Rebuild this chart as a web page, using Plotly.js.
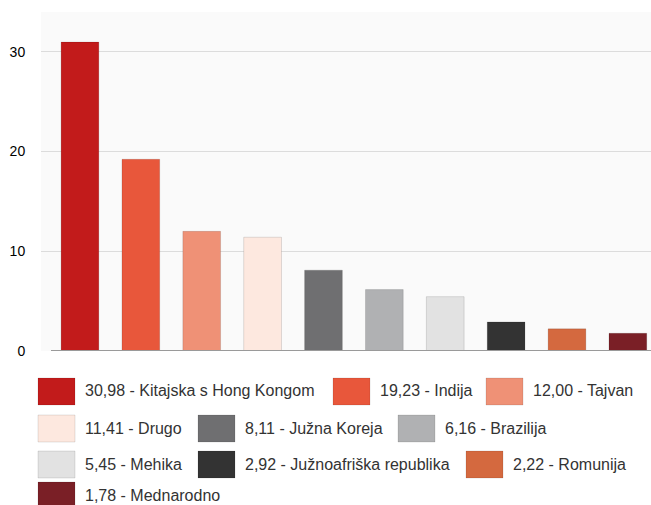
<!DOCTYPE html>
<html>
<head>
<meta charset="utf-8">
<script src="https://cdn.plot.ly/plotly-3.0.1.min.js"></script>
<style>html,body{margin:0;padding:0;background:#fff;}#chart{width:651px;height:505px;}</style>
</head>
<body>
<div id="chart"></div>
<script>
// Data
const categories = ["Kitajska s Hong Kongom", "Indija", "Tajvan", "Drugo", "Južna Koreja", "Brazilija", "Mehika", "Južnoafriška republika", "Romunija", "Mednarodno"];
const values = [30.98, 19.23, 12.00, 11.41, 8.11, 6.16, 5.45, 2.92, 2.22, 1.78];
const valueLabels = ["30,98", "19,23", "12,00", "11,41", "8,11", "6,16", "5,45", "2,92", "2,22", "1,78"];
const yTicks = [0, 10, 20, 30];

// Styles
const colors = ["#c21b1b", "#e8573b", "#ef9176", "#fde8df", "#6f6f71", "#b0b1b3", "#e2e2e2", "#333333", "#d4693f", "#7a1f26"];
const legendX = [38, 333, 486, 38, 198, 398, 38, 198, 466, 38];
const legendRow = [0, 0, 0, 1, 1, 1, 2, 2, 2, 3];
const rowTop = [378, 415, 451, 482];

const W = 651, H = 505;
const plotL = 41, plotR = 651, plotT = 12, plotB = 351;
const px = x => (x - plotL) / (plotR - plotL);
const py = y => (plotB - y) / (plotB - plotT);

const trace = {
  type: "bar",
  x: categories.map((c, i) => i),
  y: values,
  width: 0.62,
  marker: {color: colors, line: {color: "rgba(0,0,0,0.12)", width: 1}},
  hoverinfo: "none",
  showlegend: false
};

const shapes = [{
  type: "line", xref: "x", yref: "y", x0: -0.476, x1: 9.5, y0: 0, y1: 0,
  line: {color: "#9a9a9a", width: 2}, layer: "above"
}];
const annotations = [];
categories.forEach((c, i) => {
  const sx = legendX[i], top = rowTop[legendRow[i]];
  shapes.push({
    type: "rect", xref: "paper", yref: "paper",
    x0: px(sx), x1: px(sx + 37), y0: py(top + 27), y1: py(top),
    fillcolor: colors[i], line: {color: "rgba(0,0,0,0.10)", width: 1}
  });
  annotations.push({
    xref: "paper", yref: "paper", x: px(sx + 45), y: py(top + 13),
    xanchor: "left", yanchor: "middle", showarrow: false,
    text: valueLabels[i] + " - " + c,
    font: {family: "Liberation Sans, Arial, sans-serif", size: 16, color: "#333"}
  });
});

const layout = {
  width: W, height: H,
  margin: {l: plotL, r: W - plotR, t: plotT, b: H - plotB, pad: 0},
  paper_bgcolor: "#ffffff",
  plot_bgcolor: "#fafafa",
  xaxis: {range: [-0.64, 9.38], showticklabels: false, showgrid: false, zeroline: false, ticks: "", fixedrange: true},
  yaxis: {
    range: [0, 34.0], tickvals: yTicks, ticktext: yTicks.map(String),
    showgrid: true, gridcolor: "#dcdcdc", gridwidth: 1, zeroline: false,
    ticks: "outside", ticklen: 12, tickcolor: "rgba(0,0,0,0)",
    tickfont: {family: "Liberation Sans, Arial, sans-serif", size: 14, color: "#000"},
    fixedrange: true
  },
  shapes: shapes,
  annotations: annotations,
  showlegend: false
};

Plotly.newPlot("chart", [trace], layout, {displayModeBar: false, staticPlot: true});
</script>
</body>
</html>
